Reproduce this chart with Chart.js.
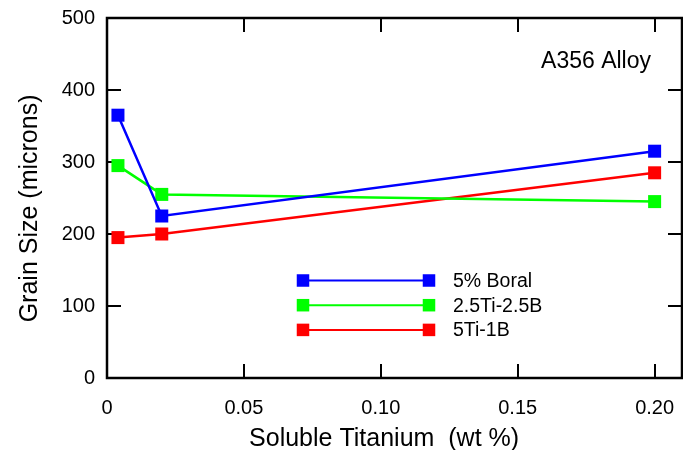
<!DOCTYPE html>
<html>
<head>
<meta charset="utf-8">
<script src="https://cdn.jsdelivr.net/npm/chart.js@4"></script>
<style>
  html, body { margin: 0; padding: 0; background: #fff; }
  #wrap { width: 683px; height: 450px; }
</style>
</head>
<body>
<div id="wrap"><canvas id="chart" width="683" height="450"></canvas></div>
<script>
// Soluble titanium content (wt %)
const titanium = [0.004, 0.02, 0.2];
// Grain size (microns) for each grain refiner
const boral = [365, 225, 315];
const tiB2525 = [295, 255, 245];
const tiB51 = [195, 200, 285];
const seriesNames = ['5% Boral', '2.5Ti-2.5B', '5Ti-1B'];
const seriesColors = ['#0000ff', '#00ff00', '#ff0000'];
// Axis ticks
const xTickValues = [0, 0.05, 0.10, 0.15, 0.20];
const xTickLabels = ['0', '0.05', '0.10', '0.15', '0.20'];
const yTickValues = [0, 100, 200, 300, 400, 500];
const alloyLabel = 'A356 Alloy';

const FONT = '"Liberation Sans", Arial, Helvetica, sans-serif';

function pairs(ys) {
  return titanium.map((x, i) => ({ x: x, y: ys[i] }));
}

const seriesValues = [boral, tiB2525, tiB51];
const datasets = seriesValues.map((vals, i) => ({
  label: seriesNames[i],
  data: pairs(vals),
  borderColor: seriesColors[i],
  backgroundColor: seriesColors[i],
  borderWidth: 2.5,
  pointStyle: 'rect',
  pointRadius: 9.2,
  pointHoverRadius: 9.2,
  pointBorderWidth: 0,
  pointBackgroundColor: seriesColors[i],
  showLine: true,
  tension: 0
}));

// Keep the plot frame fixed: no extra room reserved for edge labels
function noEdgePadding(scale) {
  scale.paddingLeft = 0;
  scale.paddingRight = 0;
  scale.paddingTop = 0;
  scale.paddingBottom = 0;
}

// Frame with inward tick marks on all four sides
const framePlugin = {
  id: 'frame',
  beforeDatasetsDraw(chart) {
    const { ctx, chartArea: a, scales } = chart;
    const len = 14;
    ctx.save();
    ctx.strokeStyle = '#000';
    ctx.lineWidth = 2;
    ctx.beginPath();
    xTickValues.forEach(v => {
      const px = Math.round(scales.x.getPixelForValue(v));
      ctx.moveTo(px, a.bottom); ctx.lineTo(px, a.bottom - len);
      ctx.moveTo(px, a.top); ctx.lineTo(px, a.top + len);
    });
    yTickValues.forEach(v => {
      const py = Math.round(scales.y.getPixelForValue(v));
      ctx.moveTo(a.left, py); ctx.lineTo(a.left + len, py);
      ctx.moveTo(a.right, py); ctx.lineTo(a.right - len, py);
    });
    ctx.stroke();
    ctx.lineWidth = 2.5;
    ctx.strokeRect(a.left, a.top, a.right - a.left, a.bottom - a.top);
    ctx.restore();
  }
};

// Legend inside the plot plus the alloy annotation
const keyPlugin = {
  id: 'key',
  afterDatasetsDraw(chart) {
    const { ctx, chartArea: a } = chart;
    const x0 = a.left + 196, x1 = a.left + 322, tx = a.left + 346;
    const side = 12.5;
    ctx.save();
    chart.data.datasets.forEach((ds, i) => {
      const y = a.top + 262.5 + i * 24.7;
      ctx.strokeStyle = ds.borderColor;
      ctx.lineWidth = 2;
      ctx.beginPath();
      ctx.moveTo(x0, y); ctx.lineTo(x1, y);
      ctx.stroke();
      ctx.fillStyle = ds.borderColor;
      ctx.fillRect(x0 - side / 2, y - side / 2, side, side);
      ctx.fillRect(x1 - side / 2, y - side / 2, side, side);
      ctx.fillStyle = '#000';
      ctx.font = '19.5px ' + FONT;
      ctx.textAlign = 'left';
      ctx.textBaseline = 'middle';
      ctx.fillText(ds.label, tx, y + 1);
    });
    ctx.font = '23px ' + FONT;
    ctx.textAlign = 'right';
    ctx.textBaseline = 'middle';
    ctx.fillStyle = '#000';
    ctx.fillText(alloyLabel, a.right - 31, a.top + 44);
    ctx.restore();
  }
};

new Chart(document.getElementById('chart'), {
  type: 'scatter',
  data: { datasets: datasets },
  options: {
    responsive: false,
    animation: false,
    devicePixelRatio: 1,
    layout: { autoPadding: false, padding: { top: 18, right: 1, left: 0, bottom: 0 } },
    plugins: {
      legend: { display: false },
      tooltip: { enabled: false }
    },
    scales: {
      x: {
        type: 'linear',
        position: 'bottom',
        min: 0,
        max: 0.21,
        afterBuildTicks(scale) {
          scale.ticks = xTickValues.map(v => ({ value: v }));
        },
        afterFit(scale) { scale.height = 72; noEdgePadding(scale); },
        grid: { display: false, drawTicks: false },
        border: { display: false },
        ticks: {
          padding: 18,
          autoSkip: false,
          maxRotation: 0,
          color: '#000',
          font: { family: FONT, size: 20 },
          callback: (v) => {
            const i = xTickValues.findIndex(t => Math.abs(t - v) < 1e-9);
            return i >= 0 ? xTickLabels[i] : '';
          }
        },
        title: {
          display: true,
          // trailing spaces nudge the centred title slightly left
          text: 'Soluble Titanium  (wt %)   ',
          color: '#000',
          font: { family: FONT, size: 25 },
          padding: { top: 0, bottom: -4 }
        }
      },
      y: {
        type: 'linear',
        position: 'left',
        min: 0,
        max: 500,
        afterBuildTicks(scale) {
          scale.ticks = yTickValues.map(v => ({ value: v }));
        },
        afterFit(scale) { scale.width = 107; noEdgePadding(scale); },
        grid: { display: false, drawTicks: false },
        border: { display: false },
        ticks: {
          padding: 12,
          color: '#000',
          font: { family: FONT, size: 20 }
        },
        title: {
          display: true,
          // trailing spaces nudge the rotated title slightly downward
          text: 'Grain Size (microns)   ',
          color: '#000',
          font: { family: FONT, size: 25 },
          padding: { top: 15, bottom: 0 }
        }
      }
    }
  },
  plugins: [framePlugin, keyPlugin]
});
</script>
</body>
</html>
